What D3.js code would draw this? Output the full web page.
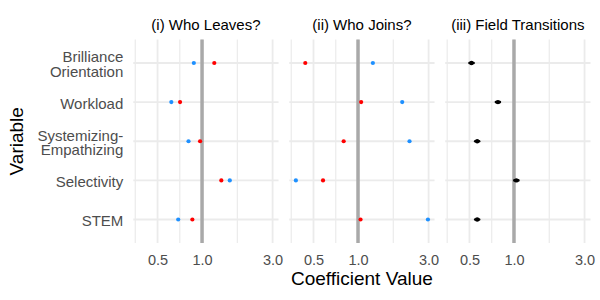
<!DOCTYPE html>
<html>
<head>
<meta charset="utf-8">
<script src="https://cdn.jsdelivr.net/npm/d3@7"></script>
<style>
    body { margin: 0; background: #fff; }
    #chart { width: 600px; height: 300px; }
    text { font-family: "Liberation Sans", Arial, sans-serif; }
</style>
</head>
<body>
<div id="chart"></div>
<script>
// categories, top to bottom
const variables = ['Brilliance\nOrientation', 'Workload', 'Systemizing-\nEmpathizing', 'Selectivity', 'STEM'];
const panelTitles = ['(i) Who Leaves?', '(ii) Who Joins?', '(iii) Field Transitions'];
const xTicks = [0.5, 1, 3];

// (i) who leaves
const leavesRed = [1.21, 0.71, 0.97, 1.35, 0.86];
const leavesBlue = [0.88, 0.62, 0.81, 1.54, 0.69];
// (ii) who joins
const joinsRed = [0.44, 1.05, 0.80, 0.58, 1.04];
const joinsBlue = [1.26, 1.99, 2.23, 0.38, 2.97];
// (iii) field transitions, estimate + interval
const fieldEst = [0.516, 0.779, 0.564, 1.038, 0.564];
const fieldLow = [0.500, 0.755, 0.547, 1.006, 0.547];
const fieldHigh = [0.533, 0.803, 0.581, 1.070, 0.581];

class FacetDotPlot {

    constructor(opts) {
        this.element = opts.element;
        this.panels = opts.panels;
        this.variables = opts.variables;
        this.ticks = opts.ticks;
        this.draw();
    }

    draw() {
        this.width = 600;
        this.height = 300;
        this.margin = {
            top: 39.5,
            right: 9.5,
            bottom: 57,
            left: 133.3
        };
        this.gap = 10.7;
        this.panelWidth = (this.width - this.margin.left - this.margin.right - 2 * this.gap) / 3;

        this.element.innerHTML = '';
        this.svg = d3.select(this.element).append('svg')
            .attr('width', this.width)
            .attr('height', this.height);

        this.createScales();
        this.addPanels();
        this.addAxes();
    }

    createScales() {
        // log scale with 5% expansion like ggplot
        const all = [];
        this.panels.forEach(p => p.series.forEach(s => {
            all.push(...s.values);
            if (s.low) all.push(...s.low, ...s.high);
        }));
        const ext = d3.extent(all).map(Math.log10);
        const pad = (ext[1] - ext[0]) * 0.05;

        this.xScale = d3.scaleLog()
            .domain([Math.pow(10, ext[0] - pad), Math.pow(10, ext[1] + pad)])
            .range([0, this.panelWidth]);

        this.yScale = d3.scalePoint()
            .domain(this.variables)
            .range([this.margin.top, this.height - this.margin.bottom])
            .padding(0.6);

        // minor breaks: geometric midpoints, breaks extended one step below
        const b = this.ticks.slice();
        b.unshift(b[0] * b[0] / b[1]);
        const dom = this.xScale.domain();
        this.minorTicks = d3.pairs(b).map(([a, c]) => Math.sqrt(a * c))
            .filter(v => v >= dom[0] && v <= dom[1]);
    }

    addPanels() {
        const top = this.margin.top;
        const bottom = this.height - this.margin.bottom;

        this.panels.forEach((panel, i) => {
            const g = this.svg.append('g')
                .attr('transform', `translate(${this.margin.left + i * (this.panelWidth + this.gap)},0)`);

            // grid
            g.selectAll('.minor')
                .data(this.minorTicks)
                .enter()
                .append('line')
                .attr('x1', d => this.xScale(d))
                .attr('x2', d => this.xScale(d))
                .attr('y1', top)
                .attr('y2', bottom)
                .attr('stroke', '#ebebeb')
                .attr('stroke-width', 1.2);

            g.selectAll('.major-x')
                .data(this.ticks)
                .enter()
                .append('line')
                .attr('x1', d => this.xScale(d))
                .attr('x2', d => this.xScale(d))
                .attr('y1', top)
                .attr('y2', bottom)
                .attr('stroke', '#ebebeb')
                .attr('stroke-width', 1.8);

            g.selectAll('.major-y')
                .data(this.variables)
                .enter()
                .append('line')
                .attr('x1', 0)
                .attr('x2', this.panelWidth)
                .attr('y1', d => this.yScale(d))
                .attr('y2', d => this.yScale(d))
                .attr('stroke', '#ebebeb')
                .attr('stroke-width', 1.8);

            // reference line at 1
            g.append('line')
                .attr('x1', this.xScale(1))
                .attr('x2', this.xScale(1))
                .attr('y1', top)
                .attr('y2', bottom)
                .attr('stroke', '#a9a9a9')
                .attr('stroke-width', 3.5);

            panel.series.forEach(s => {
                if (s.low) {
                    g.selectAll(null)
                        .data(this.variables)
                        .enter()
                        .append('line')
                        .attr('x1', (d, j) => this.xScale(s.low[j]))
                        .attr('x2', (d, j) => this.xScale(s.high[j]))
                        .attr('y1', d => this.yScale(d))
                        .attr('y2', d => this.yScale(d))
                        .attr('stroke', s.color)
                        .attr('stroke-width', 2.6)
                        .attr('stroke-linecap', 'round');
                }
                g.selectAll(null)
                    .data(this.variables)
                    .enter()
                    .append('circle')
                    .attr('cx', (d, j) => this.xScale(s.values[j]))
                    .attr('cy', d => this.yScale(d))
                    .attr('r', s.r)
                    .attr('fill', s.color);
            });

            // strip title
            g.append('text')
                .attr('x', this.panelWidth / 2)
                .attr('y', 30)
                .attr('text-anchor', 'middle')
                .attr('font-size', '15px')
                .attr('fill', '#000')
                .text(panel.title);

            // x axis
            const xAxis = d3.axisBottom(this.xScale)
                .tickValues(this.ticks)
                .tickFormat(d3.format('.1f'))
                .tickSize(0)
                .tickPadding(11.5);

            const ax = g.append('g')
                .attr('transform', `translate(0,${bottom})`)
                .call(xAxis);
            ax.select('.domain').remove();
            ax.selectAll('text')
                .attr('font-size', '14.5px')
                .attr('font-family', null)
                .attr('fill', '#4d4d4d');
        });
    }

    addAxes() {
        const yAxis = d3.axisLeft(this.yScale)
            .tickSize(0)
            .tickPadding(10);

        const ay = this.svg.append('g')
            .attr('transform', `translate(${this.margin.left},0)`)
            .call(yAxis);
        ay.select('.domain').remove();
        ay.selectAll('text')
            .attr('font-size', '15px')
            .attr('font-family', null)
            .attr('fill', '#4d4d4d')
            .attr('dy', null)
            .each(function(d) {
                const lines = d.split('\n');
                const el = d3.select(this).text(null);
                const x = el.attr('x');
                lines.forEach((line, k) => {
                    el.append('tspan')
                        .attr('x', x)
                        .attr('dy', k === 0 ? `${0.42 - (lines.length - 1) * 0.49}em` : '0.98em')
                        .text(line);
                });
            });

        // axis titles
        this.svg.append('text')
            .attr('x', this.margin.left + (this.width - this.margin.left - this.margin.right) / 2)
            .attr('y', 285)
            .attr('text-anchor', 'middle')
            .attr('font-size', '19px')
            .text('Coefficient Value');

        this.svg.append('text')
            .attr('transform', `translate(23,${(this.margin.top + this.height - this.margin.bottom) / 2}) rotate(-90)`)
            .attr('text-anchor', 'middle')
            .attr('font-size', '19px')
            .text('Variable');
    }
}

new FacetDotPlot({
    element: document.getElementById('chart'),
    variables: variables,
    ticks: xTicks,
    panels: [
        { title: panelTitles[0], series: [
            { values: leavesBlue, color: '#1e90ff', r: 2.1 },
            { values: leavesRed, color: '#ff0000', r: 2.1 }
        ] },
        { title: panelTitles[1], series: [
            { values: joinsBlue, color: '#1e90ff', r: 2.1 },
            { values: joinsRed, color: '#ff0000', r: 2.1 }
        ] },
        { title: panelTitles[2], series: [
            { values: fieldEst, low: fieldLow, high: fieldHigh, color: '#000', r: 2.2 }
        ] }
    ]
});
</script>
</body>
</html>
